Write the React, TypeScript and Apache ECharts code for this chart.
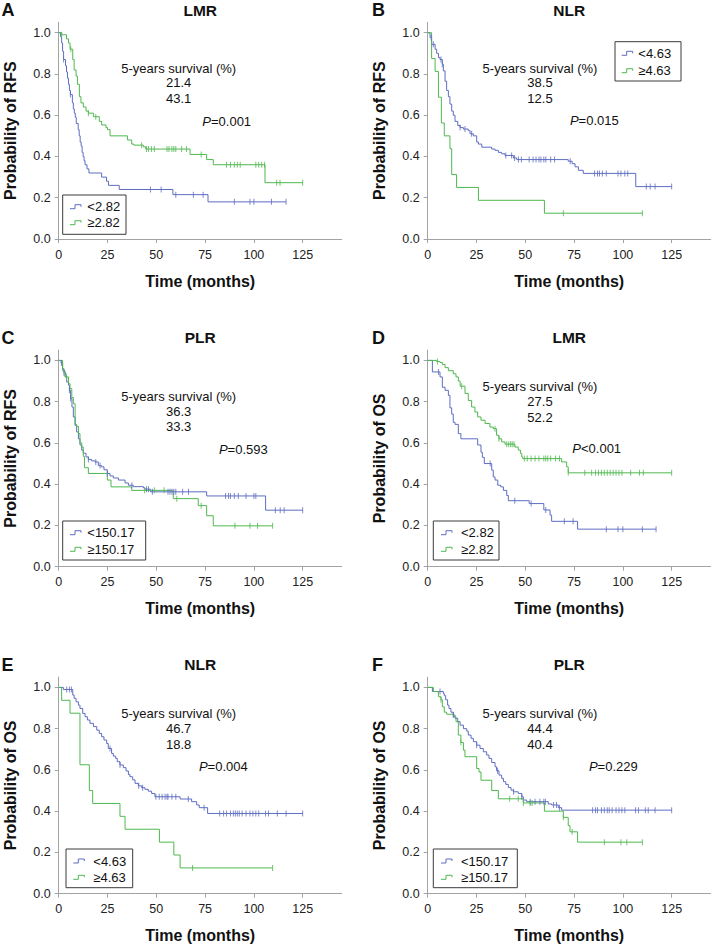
import React, { useEffect, useRef } from "react";
import * as echarts from "echarts";

const FONT = "'Liberation Sans', Arial, Helvetica, sans-serif";
const BLUE = "#5e6dc2";
const GREEN = "#4fb84f";

type Pt = [number, number];

// ---- Kaplan-Meier curves: [month, survival probability after event] ----
const A_BLUE: Pt[] = [[0,1],[1,0.98],[1.5,0.95],[2,0.91],[2.5,0.87],[3.5,0.84],[4,0.81],[4.5,0.78],[5,0.75],[5.5,0.72],[6,0.70],[7,0.66],[7.5,0.63],[8,0.61],[8.5,0.59],[9,0.56],[10,0.53],[10.5,0.50],[11,0.47],[11.5,0.45],[12,0.42],[12.5,0.40],[13,0.38],[13.5,0.36],[14.5,0.34],[15.5,0.32],[22,0.30],[24.5,0.28],[25.5,0.26],[31,0.24],[58.5,0.215],[76.5,0.18],[116.5,0.18]];
const A_GREEN: Pt[] = [[0,1],[1.5,0.99],[4,0.97],[5,0.95],[5.8,0.92],[7.2,0.87],[7.9,0.82],[8.9,0.79],[9.6,0.75],[10.6,0.69],[11.4,0.66],[12.6,0.64],[14,0.62],[15.2,0.61],[17.8,0.593],[20.8,0.57],[22,0.553],[24.2,0.54],[25,0.53],[26.3,0.50],[35.2,0.48],[37.4,0.46],[38.6,0.455],[43.4,0.447],[44.6,0.436],[67.3,0.41],[75.8,0.385],[79.2,0.36],[105.7,0.273],[125,0.273]];
const A_BLUE_CENSOR = [2.5,6,47,52.5,60,69,74,90,98,100,109,116.5];
const A_GREEN_CENSOR = [1.5,6.2,15.2,19,42.5,45,46,47.5,49,55.5,56.5,58,59,60,63,65.5,73,86,88,90,91.5,93,101,102.5,104,105.5,111.7,113.4,125];

const B_BLUE: Pt[] = [[0,1],[1.2,0.976],[2,0.944],[3.8,0.92],[4.6,0.90],[5.5,0.88],[6.3,0.87],[7.5,0.847],[8,0.815],[8.9,0.765],[9.7,0.72],[10.6,0.69],[11.4,0.654],[12.3,0.62],[13.1,0.60],[14,0.57],[15.4,0.55],[16.6,0.54],[18.3,0.533],[20.8,0.525],[21.7,0.51],[23.4,0.50],[25.1,0.47],[26,0.46],[27.7,0.445],[32.8,0.436],[34.5,0.43],[36.2,0.42],[37.9,0.413],[39.6,0.405],[43.9,0.393],[45.6,0.385],[72,0.377],[74,0.365],[75.5,0.35],[77.2,0.333],[79.7,0.318],[106.6,0.254],[125,0.254]];
const B_GREEN: Pt[] = [[0,1],[2,0.875],[3.8,0.8125],[5.5,0.6875],[7,0.5625],[8.5,0.5],[11.4,0.4375],[12.3,0.3125],[14.8,0.25],[26,0.1875],[59.8,0.125],[110,0.125]];
const B_BLUE_CENSOR = [1.8,2.9,6.8,7.5,16.6,19.1,22.5,40,43,44.5,46.5,48,52,54,55.5,57,58,59.5,60.5,63,65,73,85.5,87,88,89.5,91.5,97.5,99,101,102.5,112,114,116.5,125];
const B_GREEN_CENSOR = [69.5,110];

const C_BLUE: Pt[] = [[0,1],[1.2,0.987],[2,0.96],[2.7,0.94],[3.6,0.92],[4.1,0.895],[5,0.88],[5.5,0.855],[6.1,0.815],[6.8,0.774],[7.5,0.726],[8.4,0.685],[9.2,0.653],[10.1,0.62],[10.9,0.59],[11.8,0.565],[12.6,0.55],[14,0.532],[15.2,0.52],[16.9,0.513],[18.6,0.508],[20.3,0.49],[22,0.484],[23.2,0.47],[24.9,0.452],[26.3,0.44],[28,0.43],[30.6,0.42],[34,0.406],[35.7,0.395],[38.2,0.388],[43.4,0.382],[44.2,0.376],[47,0.363],[75.8,0.343],[106,0.274],[125,0.274]];
const C_GREEN: Pt[] = [[0,1],[2,0.95],[3.2,0.92],[5,0.887],[5.8,0.863],[6.7,0.82],[7.5,0.79],[8.4,0.69],[9.2,0.68],[10.1,0.645],[10.9,0.60],[11.8,0.58],[12.6,0.535],[13.2,0.48],[15.2,0.452],[24.9,0.42],[26.8,0.387],[37.4,0.37],[58.7,0.33],[71.5,0.296],[75.8,0.247],[79.2,0.198],[109.6,0.198]];
const C_BLUE_CENSOR = [1.5,2.7,5.5,6.1,15.2,19,21.2,24.9,37.5,45,46,48,56,57,58,59,60,63.5,66.5,85.5,87,88,90,92,96,100,101,111,113.5,115.5,125];
const C_GREEN_CENSOR = [4,44,49,54,60.5,73,90.3,98,101.9,109.6];

const D_BLUE: Pt[] = [[0,1],[2.4,0.944],[6.3,0.92],[7.5,0.87],[8.9,0.855],[10.6,0.83],[11.4,0.77],[12.3,0.74],[13.1,0.70],[14,0.69],[15.7,0.645],[17,0.62],[25.6,0.59],[27.3,0.555],[28,0.53],[29,0.50],[32.8,0.468],[33.6,0.435],[34.5,0.42],[35.9,0.395],[37.4,0.387],[38.8,0.37],[40.5,0.345],[41.3,0.32],[52,0.306],[59.5,0.275],[62.7,0.25],[63.5,0.22],[76.8,0.182],[117,0.182]];
const D_GREEN: Pt[] = [[0,1],[4.6,0.995],[6.3,0.99],[7.5,0.98],[8.9,0.965],[10.6,0.95],[13.1,0.935],[14.5,0.92],[15.7,0.90],[16.6,0.875],[19.1,0.84],[20.8,0.806],[22.5,0.774],[24.2,0.75],[25.6,0.726],[27.3,0.71],[29.4,0.694],[31.9,0.677],[33.6,0.669],[35.3,0.637],[36.5,0.62],[37.9,0.605],[39.6,0.594],[44.7,0.58],[46.4,0.565],[47.6,0.548],[48.2,0.532],[48.7,0.524],[68.6,0.508],[71.2,0.484],[72,0.455],[125,0.455]];
const D_BLUE_CENSOR = [5.5,32,44.6,53,60.5,70,74.5,91.5,97.5,100,110,117];
const D_GREEN_CENSOR = [5,17.4,34.5,36.5,40.5,41.5,42.5,43.3,44.2,49.5,51,53,55,57,59.5,60.5,61.5,63,65.5,67.5,72,80.5,84,86,87.5,89,90.5,92,93.5,95,96.5,98,99.5,104,108.5,110.5,125];

const E_BLUE: Pt[] = [[0,1],[2.4,0.99],[7.2,0.963],[7.9,0.947],[8.9,0.93],[10.1,0.914],[10.9,0.898],[12.3,0.874],[13.5,0.858],[14.7,0.842],[16,0.826],[17.8,0.81],[19.5,0.793],[20.8,0.777],[22,0.761],[23.2,0.745],[24.6,0.728],[25.4,0.704],[27.1,0.68],[28,0.667],[29.2,0.656],[30,0.64],[31.4,0.624],[33.1,0.611],[34.5,0.595],[35.7,0.578],[36.5,0.567],[37.9,0.552],[39.1,0.535],[40.8,0.523],[42.5,0.514],[44.2,0.506],[45.9,0.497],[47.6,0.486],[49.3,0.47],[62.2,0.459],[68.1,0.446],[70.7,0.43],[72,0.417],[76.3,0.389],[125,0.389]];
const E_GREEN: Pt[] = [[0,1],[1.5,0.9375],[5.8,0.875],[10.9,0.625],[15.7,0.5],[17.4,0.4375],[31.4,0.375],[34,0.3125],[51.6,0.25],[59,0.1875],[62.2,0.125],[109.6,0.125]];
const E_BLUE_CENSOR = [4.1,5.5,6.5,26.3,31.4,41,43,49.8,51.5,53,54.5,55.5,56,58,60,66.4,74.5,82.5,84.5,86,88,89.5,90.5,91.5,92.5,94,96,98,99.5,101,102.5,106,107.5,112,116.5,125];
const E_GREEN_CENSOR = [68.6,109.6];

const F_BLUE: Pt[] = [[0,1],[2.4,0.98],[8,0.97],[8.5,0.96],[9.2,0.94],[10.2,0.914],[10.9,0.898],[11.9,0.88],[13.1,0.866],[14,0.85],[15.4,0.834],[16.6,0.817],[18.3,0.80],[20,0.788],[20.8,0.769],[22.2,0.753],[23.4,0.737],[25.1,0.72],[26.8,0.704],[28.5,0.688],[30.2,0.672],[31.4,0.656],[32.8,0.636],[34.5,0.615],[35.3,0.596],[36.5,0.575],[37.9,0.559],[38.8,0.543],[40,0.53],[41.3,0.515],[42.7,0.502],[43.9,0.494],[46.4,0.486],[48.2,0.47],[49,0.454],[50.7,0.446],[61.8,0.435],[63.5,0.43],[66.9,0.417],[68.6,0.405],[125,0.405]];
const F_GREEN: Pt[] = [[0,1],[2.9,0.98],[5.5,0.955],[6.8,0.94],[7.5,0.906],[8.5,0.88],[9.7,0.87],[13.1,0.858],[14.5,0.834],[15.7,0.769],[17,0.733],[18.3,0.696],[19.1,0.664],[25.1,0.607],[26.3,0.59],[27.3,0.55],[32.8,0.50],[36.2,0.46],[49,0.44],[59.8,0.40],[69.5,0.37],[72,0.33],[72.9,0.30],[76.8,0.25],[110,0.25]];
const F_BLUE_CENSOR = [6.3,13.1,25.1,35.8,44,48.2,52.5,55,57.5,59.5,60.3,64.5,66,67.5,84.5,86,87,89,90.5,92,93,94.5,96.5,98,99.5,101,106.5,108,111.5,113,116.5,125];
const F_GREEN_CENSOR = [6.8,17,42,46.4,49,52.5,53.5,69.5,74,90.5,99,102,110];

const BLUE_CURVES = [A_BLUE, B_BLUE, C_BLUE, D_BLUE, E_BLUE, F_BLUE];
const GREEN_CURVES = [A_GREEN, B_GREEN, C_GREEN, D_GREEN, E_GREEN, F_GREEN];
const BLUE_CENSORS = [A_BLUE_CENSOR, B_BLUE_CENSOR, C_BLUE_CENSOR, D_BLUE_CENSOR, E_BLUE_CENSOR, F_BLUE_CENSOR];
const GREEN_CENSORS = [A_GREEN_CENSOR, B_GREEN_CENSOR, C_GREEN_CENSOR, D_GREEN_CENSOR, E_GREEN_CENSOR, F_GREEN_CENSOR];

// ---- texts ----
const PANEL_LETTERS = ["A", "B", "C", "D", "E", "F"];
const PANEL_TITLES = ["LMR", "NLR", "PLR", "LMR", "NLR", "PLR"];
const Y_NAMES = ["Probability of RFS", "Probability of RFS", "Probability of RFS", "Probability of OS", "Probability of OS", "Probability of OS"];
const X_NAME = "Time (months)";
const SURVIVAL_HEADER = "5-years survival (%)";
const SURVIVAL_VALUES = [["21.4", "43.1"], ["38.5", "12.5"], ["36.3", "33.3"], ["27.5", "52.2"], ["46.7", "18.8"], ["44.4", "40.4"]];
const P_VALUES = ["=0.001", "=0.015", "=0.593", "<0.001", "=0.004", "=0.229"];
const LEGEND_LABELS = [["<2.82", "≥2.82"], ["<4.63", "≥4.63"], ["<150.17", "≥150.17"], ["<2.82", "≥2.82"], ["<4.63", "≥4.63"], ["<150.17", "≥150.17"]];
const X_TICKS = [0, 25, 50, 75, 100, 125];
const Y_TICKS = [0, 0.2, 0.4, 0.6, 0.8, 1.0];

// ---- layout (pixels) ----
const GRID_LEFT = 58.7;
const GRID_TOP = 22.4;
const GRID_W = 283;
const GRID_H = 216.6;
const LAYOUT = [
  { ox: 0, oy: 0, ann: { cx: 178.7, y: [68.3, 82.7, 98.7] }, p: { cx: 226.7, y: 121 }, leg: { x: 62.7, y: 195, w: 63.3, h: 39.3, rows: [206.7, 222.7], symX: 70, textX: 87.3 } },
  { ox: 369, oy: 0, ann: { cx: 171, y: [68.3, 82.7, 98.7] }, p: { cx: 225.3, y: 120 }, leg: { x: 246, y: 41.7, w: 66, h: 39.3, rows: [53.3, 70.7], symX: 252.7, textX: 269.3 } },
  { ox: 0, oy: 327.7, ann: { cx: 178.7, y: [68.3, 83.3, 99] }, p: { cx: 243.3, y: 121.6 }, leg: { x: 62.7, y: 193.3, w: 83, h: 39, rows: [205, 221.6], symX: 70, textX: 87.3 } },
  { ox: 369, oy: 327.7, ann: { cx: 171, y: [59, 73.3, 89.6] }, p: { cx: 227.7, y: 120.6 }, leg: { x: 64.3, y: 193.3, w: 65.7, h: 39, rows: [205, 221.6], symX: 72, textX: 92 } },
  { ox: 0, oy: 654.7, ann: { cx: 178.7, y: [58.6, 73.6, 89.3] }, p: { cx: 223.3, y: 112 }, leg: { x: 66, y: 194.3, w: 66.7, h: 38.7, rows: [206.3, 222.6], symX: 73.3, textX: 93.3 } },
  { ox: 369, oy: 654.7, ann: { cx: 171, y: [58.6, 73.6, 89.3] }, p: { cx: 244.3, y: 112 }, leg: { x: 64.3, y: 194.3, w: 84, h: 38.7, rows: [206.3, 222.6], symX: 72, textX: 92 } },
];

function survivalAt(curve: Pt[], t: number): number {
  let s = curve[0][1];
  for (const [ct, cs] of curve) {
    if (ct <= t + 1e-9) s = cs;
    else break;
  }
  return s;
}

function txt(text: string, x: number, y: number, size: number, weight: string, align = "center", extra: any = {}) {
  return {
    type: "text",
    x,
    y,
    silent: true,
    z: 10,
    ...extra,
    style: {
      text,
      x: 0,
      y: 0,
      fill: "#111",
      fontFamily: FONT,
      fontSize: size,
      fontWeight: weight,
      align,
      textAlign: align,
      verticalAlign: "middle",
      textVerticalAlign: "middle",
    },
  };
}

function buildOption() {
  const grid: any[] = [];
  const xAxis: any[] = [];
  const yAxis: any[] = [];
  const series: any[] = [];
  const graphic: any[] = [];
  const axisColor = "#a3a3a3";

  LAYOUT.forEach((l, i) => {
    const gl = GRID_LEFT + l.ox;
    const gt = GRID_TOP + l.oy;
    grid.push({ left: gl, top: gt, width: GRID_W, height: GRID_H, containLabel: false, outerBoundsMode: "none" });
    xAxis.push({
      type: "value", gridIndex: i, min: 0, max: 145,
      axisLine: { show: true, lineStyle: { color: axisColor, width: 1 } },
      axisTick: { show: true, length: 4, customValues: X_TICKS, lineStyle: { color: axisColor } },
      axisLabel: { show: true, customValues: X_TICKS, margin: 9, fontSize: 12.5, color: "#222", fontFamily: FONT },
      splitLine: { show: false },
    });
    yAxis.push({
      type: "value", gridIndex: i, min: 0, max: 1.05,
      axisLine: { show: true, lineStyle: { color: axisColor, width: 1 } },
      axisTick: { show: true, length: 4, customValues: Y_TICKS, lineStyle: { color: axisColor } },
      axisLabel: { show: true, customValues: Y_TICKS, margin: 8, fontSize: 12.5, color: "#222", fontFamily: FONT, formatter: (v: number) => v.toFixed(1) },
      splitLine: { show: false },
    });

    const groups = [
      { curve: BLUE_CURVES[i], censor: BLUE_CENSORS[i], color: BLUE, name: LEGEND_LABELS[i][0] },
      { curve: GREEN_CURVES[i], censor: GREEN_CENSORS[i], color: GREEN, name: LEGEND_LABELS[i][1] },
    ];
    groups.forEach((g) => {
      series.push({
        type: "line", name: g.name, xAxisIndex: i, yAxisIndex: i, data: g.curve, step: "end",
        showSymbol: false, symbol: "none", silent: true, z: 3,
        lineStyle: { color: g.color, width: 1 }, itemStyle: { color: g.color },
      });
      series.push({
        type: "scatter", name: g.name, xAxisIndex: i, yAxisIndex: i,
        data: g.censor.map((t) => [t, survivalAt(g.curve, t)]),
        symbol: "rect", symbolSize: [1, 6], silent: true, z: 4,
        itemStyle: { color: g.color },
      });
    });

    // panel letter and title
    graphic.push(txt(PANEL_LETTERS[i], 1.5 + (l.ox ? 370.5 : 0), 10 + l.oy, 18, "bold", "left"));
    graphic.push(txt(PANEL_TITLES[i], gl + GRID_W / 2, 10 + l.oy, 15.5, "bold"));
    // axis names
    graphic.push(txt(Y_NAMES[i], 10 + l.ox, gt + GRID_H / 2, 16, "bold", "center", { rotation: Math.PI / 2 }));
    graphic.push(txt(X_NAME, gl + GRID_W / 2, 281 + l.oy, 16, "bold"));
    // annotation
    graphic.push(txt(SURVIVAL_HEADER, l.ann.cx + l.ox, l.ann.y[0] + l.oy, 13, "normal"));
    graphic.push(txt(SURVIVAL_VALUES[i][0], l.ann.cx + l.ox, l.ann.y[1] + l.oy, 13, "normal"));
    graphic.push(txt(SURVIVAL_VALUES[i][1], l.ann.cx + l.ox, l.ann.y[2] + l.oy, 13, "normal"));
    graphic.push({
      type: "text", x: l.p.cx + l.ox, y: l.p.y + l.oy, silent: true, z: 10,
      style: {
        text: "{i|P}" + P_VALUES[i], x: 0, y: 0, fill: "#111", fontFamily: FONT, fontSize: 13,
        align: "center", textAlign: "center", verticalAlign: "middle", textVerticalAlign: "middle",
        rich: { i: { fontStyle: "italic", fontFamily: FONT, fontSize: 13, fill: "#111" } },
      },
    });
    // legend box
    const lg = l.leg;
    graphic.push({
      type: "rect", silent: true, z: 9,
      shape: { x: lg.x + l.ox, y: lg.y + l.oy, width: lg.w, height: lg.h },
      style: { fill: "#fff", stroke: "#3a3a3a", lineWidth: 1 },
    });
    [BLUE, GREEN].forEach((c, k) => {
      const sx = lg.symX + l.ox;
      const sy = lg.rows[k] + l.oy;
      graphic.push({
        type: "polyline", silent: true, z: 10,
        shape: { points: [[sx, sy + 2], [sx + 5, sy + 2], [sx + 5, sy - 2], [sx + 11, sy - 2], [sx + 11, sy]] },
        style: { stroke: c, fill: "none", lineWidth: 1 },
      });
      graphic.push(txt(LEGEND_LABELS[i][k], lg.textX + l.ox, sy, 13, "normal", "left"));
    });
  });

  return {
    animation: false,
    backgroundColor: "#ffffff",
    grid, xAxis, yAxis, series, graphic,
  };
}

export default function App() {
  const ref = useRef<HTMLDivElement>(null);
  useEffect(() => {
    document.body.style.margin = "0";
    if (!ref.current) return;
    const chart = echarts.init(ref.current, null, { renderer: "svg" });
    chart.setOption(buildOption() as any);
    return () => chart.dispose();
  }, []);
  return <div ref={ref} style={{ width: 713, height: 945 }} />;
}
